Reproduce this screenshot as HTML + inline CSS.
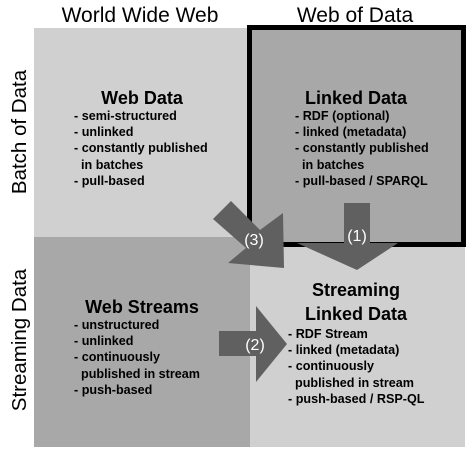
<!DOCTYPE html><html><head><style>
body{margin:0;width:468px;height:454px;background:#fff;position:relative;overflow:hidden;font-family:"Liberation Sans",Arial,sans-serif}
.a{position:absolute}
.h{font-size:21px;color:#000;top:4px;text-align:center}
.t{font-weight:bold;font-size:18px;text-align:center;line-height:24px}
.l{font-weight:bold;font-size:12.6px;line-height:16.2px;white-space:pre}
.v{font-size:20.5px;transform:translate(-50%,-50%) rotate(-90deg);white-space:nowrap}
</style></head><body>
<div class="a" style="left:34px;top:28px;width:216px;height:209px;background:#d0d0d0"></div>
<div class="a" style="left:34px;top:237px;width:216px;height:210px;background:#a8a8a8"></div>
<div class="a" style="left:250px;top:237px;width:215px;height:210px;background:#d0d0d0"></div>
<div class="a" style="left:247px;top:25px;width:209px;height:212px;background:#a8a8a8;border:5px solid #000"></div>
<div class="a h" style="left:40px;width:200px">World Wide Web</div>
<div class="a h" style="left:255px;width:200px">Web of Data</div>
<div class="a v" style="left:20px;top:132px">Batch of Data</div>
<div class="a v" style="left:20px;top:340px">Streaming Data</div>
<div class="a t" style="left:42px;width:200px;top:86px">Web Data</div>
<div class="a l" style="left:74px;top:108px">- semi-structured
- unlinked
- constantly published
  in batches
- pull-based</div>
<div class="a t" style="left:256px;width:200px;top:86px">Linked Data</div>
<div class="a l" style="left:295px;top:108px">- RDF (optional)
- linked (metadata)
- constantly published
  in batches
- pull-based / SPARQL</div>
<div class="a t" style="left:42px;width:200px;top:295px">Web Streams</div>
<div class="a l" style="left:74px;top:317px">- unstructured
- unlinked
- continuously
  published in stream
- push-based</div>
<div class="a t" style="left:256px;width:200px;top:278px">Streaming<br>Linked Data</div>
<div class="a l" style="left:288px;top:326px">- RDF Stream
- linked (metadata)
- continuously
  published in stream
- push-based / RSP-QL</div>
<svg class="a" style="left:0;top:0" width="468" height="454">
<g fill="#606060">
<polygon points="344,203 370,203 370,243 398,243 357,270 297,243 344,243"/>
<polygon points="219,331 256,331 256,306 287,344 256,382 256,356 219,356"/>
<polygon points="213,219 231,201 260,230 283,213 284,268 228,263 246,248"/>
</g>
<g fill="#fff" font-size="16" font-family="Liberation Sans,Arial,sans-serif" text-anchor="middle">
<text x="357" y="241">(1)</text>
<text x="255" y="350">(2)</text>
<text x="254" y="245">(3)</text>
</g>
</svg>
</body></html>
